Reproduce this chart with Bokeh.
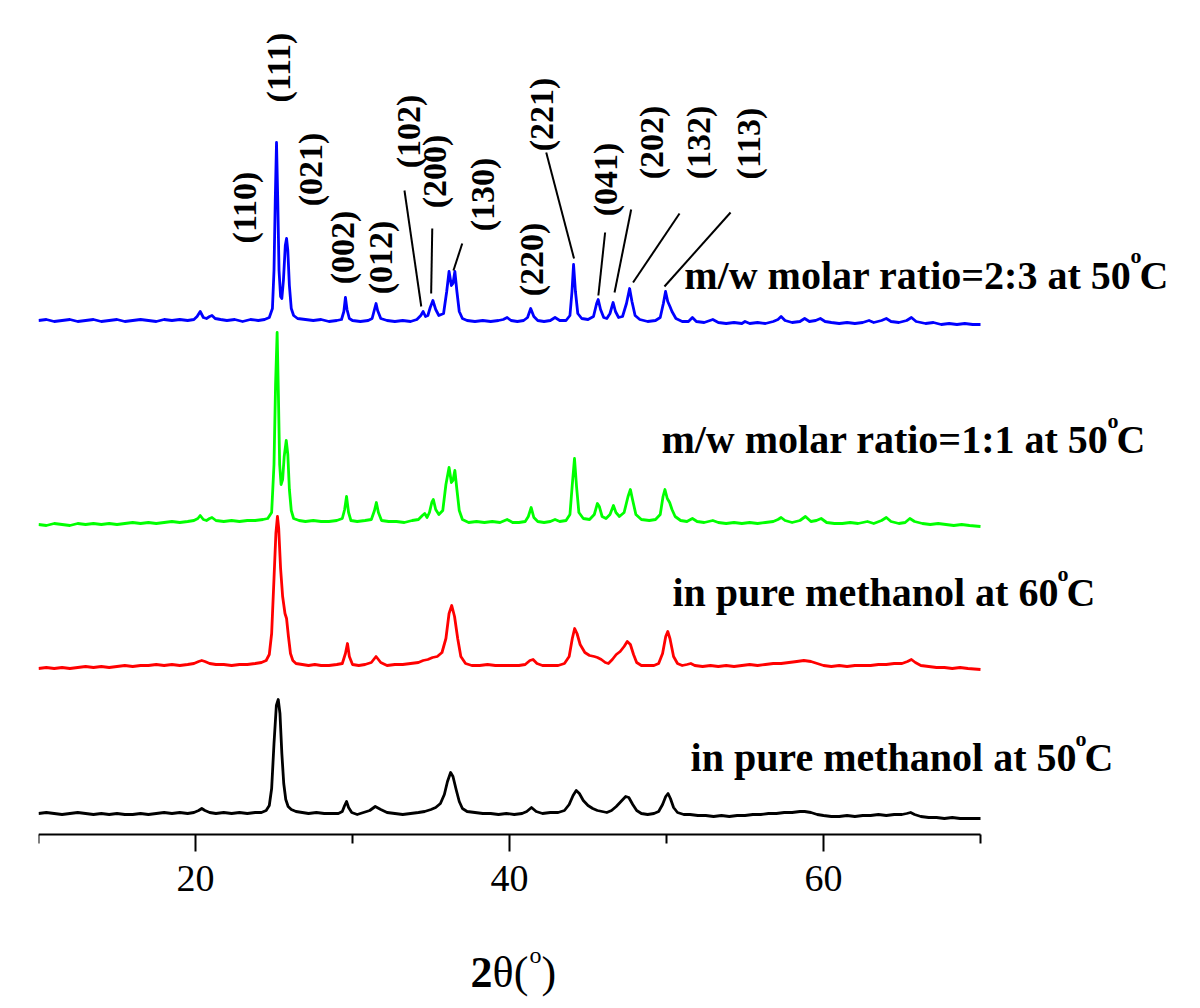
import numpy as np
from bokeh.plotting import figure
from bokeh.models import Range1d, FixedTicker, Label
from bokeh.embed import file_html
from bokeh.resources import INLINE

# ---------------- data: (2theta, intensity above own baseline, a.u.) ----------------
blue_pattern = [
    (10.0, 0), (10.5, 1), (11.0, -1), (11.5, 0), (12.0, 1), (12.5, -1), (13.0, 0), (13.5, 1), (14.0, -1),
    (14.5, 0), (15.0, 1), (15.5, -1), (16.0, 0), (16.5, 1), (17.0, 0), (17.5, -1), (18.0, 1), (18.5, 0),
    (19.0, 1), (19.5, 0), (19.9, 1), (20.1, 4), (20.3, 9), (20.5, 3), (20.7, 2), (20.9, 4), (21.05, 5),
    (21.25, 2), (21.6, 1), (22.0, 0), (22.5, 1), (23.0, -1), (23.5, 1), (24.0, 0), (24.4, 1), (24.7, 3),
    (24.9, 12), (25.0, 50), (25.08, 120), (25.16, 178), (25.24, 120), (25.32, 50), (25.42, 24), (25.5, 22),
    (25.6, 40), (25.72, 75), (25.8, 82), (25.88, 70), (25.98, 35), (26.1, 12), (26.25, 5), (26.5, 2),
    (27.0, 1), (27.5, 0), (28.0, 1), (28.5, -1), (29.0, 0), (29.3, 1), (29.45, 9), (29.55, 23), (29.65, 11),
    (29.8, 2), (30.0, 0), (30.5, -1), (31.0, 0), (31.25, 2), (31.4, 11), (31.5, 17), (31.6, 10), (31.8, 2),
    (32.2, 0), (32.7, -1), (33.2, 0), (33.7, -1), (34.1, 1), (34.35, 5), (34.5, 9), (34.65, 4), (34.8, 5),
    (34.95, 13), (35.12, 20), (35.3, 11), (35.5, 5), (35.8, 7), (36.0, 29), (36.15, 49), (36.3, 35),
    (36.4, 37), (36.52, 49), (36.65, 29), (36.8, 9), (37.0, 2), (37.3, 0), (37.8, -1), (38.3, 0), (38.8, -1),
    (39.3, 0), (39.6, 1), (39.85, 3), (40.1, 0), (40.5, -1), (40.9, 0), (41.15, 3), (41.35, 12), (41.55, 4),
    (41.8, 0), (42.2, -1), (42.6, 0), (42.9, 3), (43.2, 0), (43.6, 0), (43.85, 5), (43.98, 29), (44.08, 56),
    (44.2, 29), (44.35, 7), (44.6, 2), (45.0, 1), (45.35, 4), (45.55, 17), (45.65, 21), (45.8, 11), (46.0, 3),
    (46.2, 2), (46.4, 7), (46.6, 18), (46.75, 9), (46.95, 3), (47.2, 4), (47.45, 17), (47.65, 32), (47.8, 19),
    (48.0, 5), (48.3, 1), (48.8, -1), (49.3, 0), (49.6, 3), (49.8, 17), (49.94, 29), (50.08, 19), (50.22, 14),
    (50.35, 9), (50.6, 2), (51.0, -1), (51.4, -1), (51.65, 3), (51.9, -1), (52.4, -2), (52.95, 1), (53.3, -2),
    (53.8, -3), (54.3, -2), (54.8, -3), (55.0, -1), (55.3, -3), (55.8, -2), (56.3, -3), (56.8, -1), (57.1, 1),
    (57.3, 4), (57.55, 0), (58.0, -2), (58.5, -1), (58.8, 2), (59.1, -1), (59.5, 0), (59.8, 2), (60.1, -1),
    (60.5, -2), (61.0, -3), (61.5, -2), (62.0, -3), (62.5, -2), (62.9, 0), (63.2, -2), (63.7, 0), (64.0, 2),
    (64.3, -1), (64.8, -2), (65.3, 0), (65.6, 3), (65.9, -1), (66.5, -3), (67.0, -2), (67.5, -4), (68.0, -3),
    (68.5, -4), (69.0, -3), (69.5, -4), (70.0, -4),
]

green_pattern = [
    (10.0, 0), (10.5, -1), (11.0, 1), (11.5, 0), (12.0, -1), (12.5, 1), (13.0, 0), (13.5, 1), (14.0, 0),
    (14.5, 1), (15.0, 0), (15.5, 1), (16.0, 2), (16.5, 1), (17.0, 2), (17.5, 1), (18.0, 2), (18.5, 3),
    (19.0, 2), (19.5, 3), (19.9, 4), (20.15, 6), (20.3, 9), (20.5, 5), (20.7, 4), (20.9, 6), (21.05, 7),
    (21.3, 4), (21.8, 3), (22.3, 4), (22.8, 3), (23.3, 4), (23.8, 4), (24.3, 5), (24.6, 6), (24.85, 12),
    (25.0, 60), (25.1, 140), (25.2, 192), (25.28, 130), (25.36, 60), (25.45, 40), (25.55, 45), (25.65, 68),
    (25.78, 84), (25.88, 70), (25.98, 35), (26.1, 14), (26.25, 6), (26.6, 4), (27.0, 3), (27.5, 4), (28.0, 3),
    (28.5, 3), (29.0, 4), (29.35, 6), (29.5, 15), (29.62, 28), (29.75, 12), (29.9, 4), (30.3, 3), (30.8, 4),
    (31.2, 5), (31.4, 14), (31.52, 22), (31.65, 12), (31.85, 4), (32.3, 3), (32.8, 3), (33.3, 2), (33.8, 4),
    (34.2, 5), (34.45, 9), (34.6, 11), (34.75, 7), (34.9, 12), (35.05, 22), (35.15, 25), (35.3, 15),
    (35.5, 10), (35.75, 14), (35.95, 40), (36.15, 57), (36.3, 42), (36.4, 44), (36.52, 54), (36.65, 35),
    (36.8, 14), (37.0, 5), (37.4, 2), (37.9, 3), (38.4, 2), (38.9, 3), (39.4, 2), (39.85, 5), (40.2, 2),
    (40.6, 2), (41.0, 3), (41.2, 8), (41.38, 17), (41.55, 7), (41.8, 3), (42.2, 2), (42.6, 3), (42.9, 5),
    (43.2, 3), (43.6, 4), (43.85, 10), (44.0, 40), (44.14, 66), (44.27, 38), (44.42, 12), (44.7, 6),
    (45.1, 5), (45.4, 10), (45.6, 21), (45.72, 18), (45.9, 8), (46.15, 6), (46.4, 10), (46.62, 19),
    (46.78, 12), (47.0, 8), (47.3, 12), (47.55, 28), (47.7, 35), (47.85, 24), (48.05, 10), (48.4, 5),
    (48.9, 4), (49.3, 5), (49.6, 10), (49.78, 28), (49.9, 35), (50.05, 26), (50.2, 22), (50.35, 15),
    (50.55, 8), (50.9, 4), (51.3, 3), (51.65, 6), (51.95, 3), (52.4, 2), (52.95, 4), (53.3, 2), (53.8, 1),
    (54.3, 2), (54.8, 1), (55.3, 2), (55.8, 1), (56.3, 2), (56.8, 3), (57.1, 5), (57.3, 7), (57.55, 4),
    (58.0, 2), (58.5, 4), (58.85, 8), (59.2, 3), (59.55, 4), (59.85, 6), (60.2, 2), (60.7, 1), (61.2, 1),
    (61.7, 2), (62.2, 1), (62.8, 3), (63.2, 1), (63.7, 4), (64.0, 7), (64.3, 3), (64.8, 1), (65.2, 2),
    (65.5, 6), (65.8, 3), (66.3, 1), (66.8, 0), (67.3, 1), (67.8, 0), (68.3, -1), (68.8, 0), (69.3, -1),
    (70.0, -2),
]

red_pattern = [
    (10.0, 0), (10.5, 1), (11.0, 0), (11.5, 1), (12.0, 0), (12.5, 1), (13.0, 2), (13.5, 1), (14.0, 2),
    (14.5, 1), (15.0, 2), (15.5, 3), (16.0, 2), (16.5, 3), (17.0, 3), (17.5, 4), (18.0, 3), (18.5, 4),
    (19.0, 3), (19.5, 4), (19.9, 5), (20.2, 7), (20.4, 8), (20.6, 7), (20.9, 5), (21.3, 4), (21.8, 4),
    (22.3, 3), (22.8, 4), (23.3, 4), (23.8, 5), (24.2, 6), (24.5, 8), (24.7, 14), (24.85, 35), (25.0, 90),
    (25.12, 135), (25.22, 152), (25.3, 140), (25.42, 100), (25.55, 72), (25.7, 55), (25.8, 50), (25.92, 32),
    (26.05, 15), (26.2, 8), (26.4, 5), (26.8, 4), (27.2, 3), (27.6, 4), (28.0, 3), (28.5, 3), (29.0, 4),
    (29.35, 5), (29.55, 15), (29.68, 25), (29.8, 12), (30.0, 4), (30.4, 3), (30.8, 4), (31.2, 6), (31.5, 12),
    (31.8, 6), (32.2, 3), (32.7, 4), (33.2, 4), (33.7, 5), (34.2, 6), (34.5, 8), (34.8, 9), (35.1, 11),
    (35.4, 12), (35.7, 16), (35.95, 30), (36.15, 55), (36.32, 63), (36.5, 52), (36.7, 30), (36.9, 12),
    (37.2, 5), (37.6, 3), (38.1, 3), (38.6, 4), (39.1, 3), (39.6, 3), (40.1, 3), (40.6, 3), (41.0, 4),
    (41.3, 8), (41.5, 9), (41.75, 5), (42.1, 3), (42.6, 3), (43.1, 3), (43.5, 5), (43.8, 12), (44.0, 30),
    (44.15, 40), (44.3, 35), (44.5, 24), (44.8, 16), (45.1, 13), (45.4, 12), (45.6, 11), (45.85, 9),
    (46.1, 6), (46.3, 5), (46.55, 9), (46.8, 14), (47.05, 17), (47.3, 22), (47.5, 27), (47.7, 24), (47.9, 14),
    (48.1, 6), (48.4, 3), (48.8, 3), (49.2, 3), (49.5, 5), (49.75, 15), (49.95, 32), (50.08, 37), (50.22, 30),
    (50.45, 12), (50.7, 5), (51.0, 3), (51.3, 4), (51.55, 5), (51.8, 3), (52.3, 2), (52.8, 3), (53.3, 2),
    (53.8, 3), (54.3, 2), (54.8, 3), (55.3, 4), (55.8, 3), (56.3, 4), (56.8, 5), (57.3, 5), (57.8, 6),
    (58.3, 7), (58.75, 8), (59.2, 7), (59.6, 5), (60.0, 3), (60.5, 2), (61.0, 3), (61.5, 2), (62.0, 3),
    (62.5, 3), (63.0, 3), (63.5, 4), (64.0, 4), (64.5, 5), (65.0, 5), (65.35, 7), (65.6, 9), (65.85, 6),
    (66.2, 3), (66.7, 2), (67.2, 1), (67.7, 1), (68.2, 0), (68.7, 1), (69.2, 0), (70.0, -1),
]

black_pattern = [
    (10.0, 0), (10.5, 1), (11.0, 0), (11.5, -1), (12.0, 0), (12.5, 1), (13.0, 0), (13.5, -1), (14.0, 0),
    (14.5, -1), (15.0, 0), (15.5, -1), (16.0, -1), (16.5, 0), (17.0, -1), (17.5, 0), (18.0, 1), (18.5, 0),
    (19.0, 1), (19.5, 0), (19.9, 1), (20.2, 3), (20.4, 5), (20.6, 3), (20.9, 1), (21.3, 0), (21.8, 1),
    (22.3, 0), (22.8, 1), (23.3, 0), (23.8, 1), (24.2, 1), (24.5, 3), (24.7, 8), (24.85, 25), (25.0, 70),
    (25.15, 108), (25.27, 114), (25.38, 100), (25.5, 60), (25.62, 30), (25.75, 14), (25.9, 7), (26.1, 4),
    (26.4, 2), (26.8, 1), (27.2, 0), (27.7, 1), (28.2, 0), (28.7, 0), (29.1, 0), (29.35, 2), (29.5, 8),
    (29.62, 12), (29.75, 6), (29.95, 1), (30.3, -1), (30.7, 1), (31.1, 3), (31.45, 7), (31.8, 4), (32.2, 1),
    (32.7, 0), (33.2, -1), (33.7, 0), (34.2, 1), (34.6, 2), (35.0, 4), (35.3, 6), (35.6, 10), (35.85, 19),
    (36.05, 32), (36.25, 41), (36.4, 37), (36.6, 24), (36.8, 12), (37.0, 5), (37.3, 2), (37.8, 1), (38.3, 0),
    (38.8, 0), (39.3, -1), (39.8, 0), (40.3, -1), (40.8, 0), (41.1, 2), (41.4, 6), (41.7, 2), (42.1, 0),
    (42.6, 1), (43.1, 1), (43.5, 3), (43.8, 9), (44.05, 18), (44.25, 23), (44.45, 20), (44.7, 13), (45.0, 8),
    (45.3, 5), (45.6, 3), (45.9, 2), (46.2, 1), (46.5, 3), (46.8, 7), (47.1, 12), (47.4, 17), (47.6, 16),
    (47.85, 9), (48.1, 3), (48.4, 0), (48.8, -1), (49.2, 0), (49.5, 2), (49.75, 9), (49.95, 17), (50.1, 20),
    (50.25, 15), (50.45, 6), (50.7, 1), (51.1, -1), (51.5, -1), (52.0, -2), (52.5, -2), (53.0, -3),
    (53.5, -2), (54.0, -3), (54.5, -2), (55.0, -2), (55.5, -1), (56.0, -1), (56.5, 0), (57.0, 0), (57.5, 1),
    (58.0, 1), (58.5, 2), (58.8, 2), (59.2, 1), (59.6, -1), (60.0, -2), (60.5, -3), (61.0, -3), (61.5, -2),
    (62.0, -3), (62.5, -2), (63.0, -2), (63.5, -1), (64.0, -2), (64.5, -1), (65.0, -1), (65.3, 0), (65.55, 1),
    (65.8, -1), (66.2, -3), (66.7, -4), (67.2, -4), (67.7, -5), (68.2, -4), (68.7, -5), (69.2, -5), (70.0, -5),
]

# vertical stacking offsets of each pattern (a.u.)
offsets = {"black": 21, "red": 166, "green": 310, "blue": 514}
colors = {"black": "#000000", "red": "#FF0000", "green": "#00FF00", "blue": "#0000FF"}
patterns = {"black": black_pattern, "red": red_pattern, "green": green_pattern, "blue": blue_pattern}

series_labels = ["in pure methanol at 50", "in pure methanol at 60",
                 "m/w molar ratio=1:1 at 50", "m/w molar ratio=2:3 at 50"]
series_order = ["black", "red", "green", "blue"]

miller_labels = ["(110)", "(111)", "(021)", "(002)", "(012)", "(102)", "(200)", "(130)",
                 "(220)", "(221)", "(041)", "(202)", "(132)", "(113)"]

x_ticks = [20, 40, 60]
x_minor = [10, 30, 50, 70]

# ---------------- figure ----------------
p = figure(width=1190, height=1006, output_backend="svg", toolbar_location=None,
           x_range=Range1d(10, 10 + 1152 / 15.7), y_range=Range1d(-172, 834),
           min_border_left=38, min_border_right=0, min_border_top=0, min_border_bottom=0)
p.outline_line_color = None
p.grid.visible = False
p.yaxis.visible = False
p.background_fill_color = "white"
p.border_fill_color = "white"

ax = p.xaxis[0]
ax.fixed_location = 0
ax.bounds = (10, 70)
ax.ticker = FixedTicker(ticks=x_ticks, minor_ticks=x_minor)
ax.axis_line_width = 2
ax.axis_line_color = "black"
ax.major_tick_line_width = 2
ax.minor_tick_line_width = 2
ax.major_tick_line_color = "black"
ax.minor_tick_line_color = "black"
ax.major_tick_in = 0
ax.major_tick_out = 17
ax.minor_tick_in = 0
ax.minor_tick_out = 9
ax.major_label_text_font = "Liberation Serif"
ax.major_label_text_font_size = "38px"
ax.major_label_text_color = "black"
ax.major_label_standoff = 14

for name in series_order:
    xs = np.array([pt[0] for pt in patterns[name]])
    ys = np.array([pt[1] for pt in patterns[name]]) + offsets[name]
    p.line(xs, ys, line_color=colors[name], line_width=2.8, line_join="round")


def add_text(x, y, text, size, style="bold", angle=0.0, align="left",
             baseline="alphabetic", dx=0, dy=0):
    # the renderer places an "alphabetic" anchor ~0.32 em low; compensate
    lift = 0.32 * size if baseline == "alphabetic" else 0
    p.add_layout(Label(x=x, y=y, text=text, text_font="Liberation Serif",
                       text_font_size=f"{size}px", text_font_style=style,
                       angle=angle, text_align=align, text_baseline=baseline,
                       x_offset=dx, y_offset=dy + lift, text_color="black"))


# Miller index labels (rotated), anchored at their centres
miller_pos = [(23.12, 627), (25.29, 767), (27.32, 665), (29.36, 587), (31.78, 577),
              (33.57, 703), (35.22, 663), (38.28, 640), (41.40, 575), (42.04, 720),
              (46.11, 655), (49.04, 692), (52.04, 692), (55.22, 691)]
for lab, (lx, ly) in zip(miller_labels, miller_pos):
    add_text(lx, ly, lab, 34, angle=np.pi / 2, align="center", baseline="middle")

# leader lines from labels to peaks
lead_x0 = [33.31, 35.08, 36.99, 42.34, 46.09, 47.75, 50.83, 54.08]
lead_y0 = [644, 606, 591, 682, 602, 625, 621, 622]
lead_x1 = [34.38, 35.01, 36.43, 44.11, 45.66, 46.69, 47.87, 49.87]
lead_y1 = [528, 541, 564, 576, 539, 542, 552, 548]
p.segment(lead_x0, lead_y0, lead_x1, lead_y1, line_color="black", line_width=2)

# series labels (right end, baseline)
label_pos = {"blue": (81.97, 546.5), "green": (80.51, 382), "red": (77.32, 229), "black": (78.47, 64)}
for name, text in zip(series_order, series_labels):
    ex, by = label_pos[name]
    add_text(ex, by, text, 40, align="right", dx=-37)
    add_text(ex, by, "o", 22, align="right", dx=-27, dy=25)
    add_text(ex, by, "C", 40, align="right")

# x-axis title 2θ(°)
add_text(37.52, -152, "2", 44, style="bold")
add_text(37.52, -152, "θ(", 44, style="normal", dx=22)
add_text(37.52, -152, "o", 24, style="normal", dx=59, dy=24)
add_text(37.52, -152, ")", 44, style="normal", dx=71)

open("out.html", "w").write(file_html(p, INLINE))
